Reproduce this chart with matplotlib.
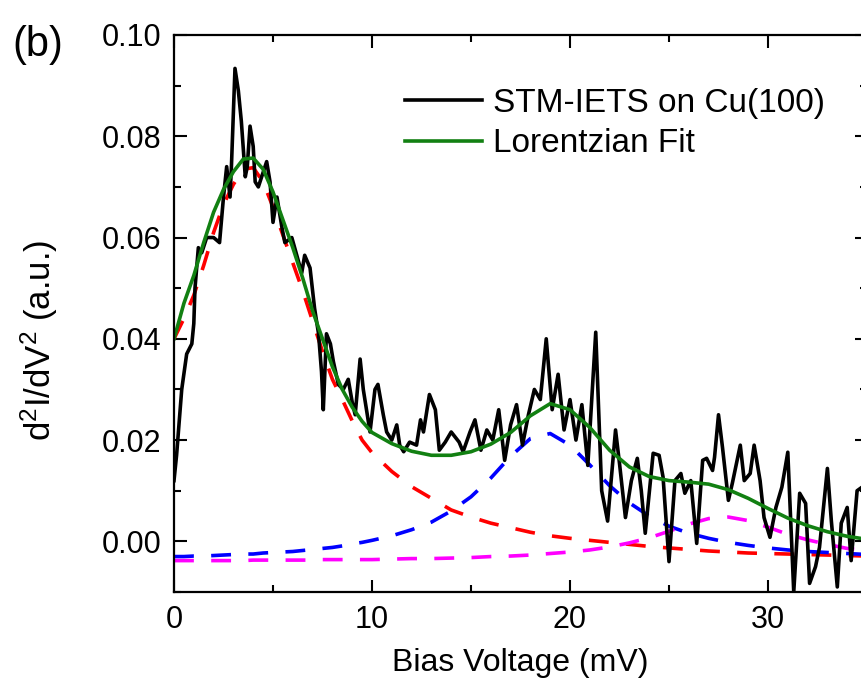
import matplotlib
matplotlib.use("Agg")
import matplotlib.pyplot as plt
from matplotlib.ticker import MultipleLocator, FormatStrFormatter

plt.rcParams["font.family"] = ["Liberation Sans", "DejaVu Sans"]
plt.rcParams["mathtext.fontset"] = "custom"
plt.rcParams["mathtext.rm"] = "Liberation Sans"
plt.rcParams["mathtext.default"] = "regular"

# Measured d2I/dV2 spectrum (bias in mV, signal in a.u.)
bias_mv = [
    0.00, 0.13, 0.39, 0.64, 0.90, 1.00, 1.06, 1.23, 1.40, 1.65, 2.00, 2.30,
    2.50, 2.66, 2.83, 2.90, 3.08, 3.25, 3.40, 3.60, 3.70, 3.84, 4.00, 4.10,
    4.26, 4.43, 4.68, 4.85, 5.00, 5.20, 5.45, 5.60, 5.95, 6.20, 6.45, 6.60,
    6.87, 7.10, 7.30, 7.45, 7.54, 7.70, 7.90, 8.05, 8.30, 8.55, 8.80, 9.00,
    9.15, 9.40, 9.56, 9.90, 10.15, 10.30, 10.57, 10.74, 11.00, 11.25, 11.40,
    11.60, 11.90, 12.25, 12.45, 12.60, 12.90, 13.20, 13.40, 13.70, 14.00,
    14.40, 14.60, 14.95, 15.20, 15.50, 15.80, 16.10, 16.40, 16.70, 17.00,
    17.30, 17.60, 17.90, 18.20, 18.50, 18.80, 19.10, 19.40, 19.70, 20.00,
    20.30, 20.60, 20.90, 21.30, 21.60, 21.90, 22.30, 22.50, 22.80, 23.10,
    23.40, 23.60, 23.80, 24.20, 24.50, 24.70, 25.00, 25.30, 25.60, 25.80,
    26.10, 26.40, 26.70, 26.90, 27.20, 27.30, 27.50, 27.70, 28.00, 28.20,
    28.60, 28.80, 29.10, 29.30, 29.60, 29.80, 30.10, 30.40, 30.70, 31.00,
    31.30, 31.60, 31.90, 32.10, 32.40, 32.60, 33.00, 33.20, 33.50, 33.70,
    34.00, 34.20, 34.50, 34.75, 35.00,
]
signal = [
    0.0120, 0.0170, 0.0300, 0.0370, 0.0390, 0.0430, 0.0500, 0.0580, 0.0570,
    0.0600, 0.0600, 0.0590, 0.0680, 0.0740, 0.0680, 0.0740, 0.0934, 0.0890,
    0.0830, 0.0720, 0.0740, 0.0820, 0.0780, 0.0710, 0.0700, 0.0720, 0.0750,
    0.0710, 0.0630, 0.0680, 0.0620, 0.0590, 0.0600, 0.0565, 0.0530, 0.0565,
    0.0540, 0.0460, 0.0410, 0.0335, 0.0260, 0.0410, 0.0390, 0.0355, 0.0310,
    0.0300, 0.0320, 0.0275, 0.0250, 0.0360, 0.0300, 0.0216, 0.0300, 0.0310,
    0.0250, 0.0216, 0.0200, 0.0230, 0.0190, 0.0177, 0.0196, 0.0190, 0.0240,
    0.0216, 0.0290, 0.0260, 0.0180, 0.0196, 0.0216, 0.0196, 0.0177, 0.0216,
    0.0240, 0.0180, 0.0220, 0.0200, 0.0260, 0.0160, 0.0230, 0.0270, 0.0190,
    0.0250, 0.0300, 0.0280, 0.0400, 0.0260, 0.0330, 0.0220, 0.0280, 0.0200,
    0.0270, 0.0150, 0.0413, 0.0100, 0.0040, 0.0220, 0.0154, 0.0047, 0.0120,
    0.0164, 0.0100, 0.0016, 0.0174, 0.0170, 0.0127, -0.0040, 0.0120, 0.0134,
    0.0095, 0.0120, -0.0004, 0.0160, 0.0164, 0.0140, 0.0166, 0.0250, 0.0186,
    0.0081, 0.0115, 0.0190, 0.0120, 0.0134, 0.0190, 0.0120, 0.0047, 0.0008,
    0.0067, 0.0107, 0.0176, -0.0100, 0.0095, 0.0075, -0.0083, -0.0050,
    -0.0012, 0.0144, 0.0040, -0.0090, 0.0036, 0.0067, -0.0038, 0.0100,
    0.0107, 0.0040,
]

# Lorentzian fit (total) and its three components, sampled along the bias axis
fit_mv = [
    0.0, 0.5, 1.0, 1.5, 2.0, 2.5, 3.0, 3.5, 4.0, 4.5, 5.0, 5.5, 6.0, 6.5, 7.0,
    7.5, 8.0, 8.5, 9.0, 9.5, 10.0, 11.0, 12.0, 13.0, 14.0, 15.0, 16.0, 17.0,
    18.0, 19.0, 20.0, 21.0, 22.0, 23.0, 24.0, 25.0, 26.0, 27.0, 28.0, 29.0,
    30.0, 31.0, 32.0, 33.0, 34.0, 35.0,
]
fit_total = [
    0.0400, 0.0470, 0.0525, 0.0590, 0.0650, 0.0695, 0.0730, 0.0755, 0.0757,
    0.0735, 0.0690, 0.0635, 0.0580, 0.0520, 0.0455, 0.0400, 0.0345, 0.0300,
    0.0265, 0.0237, 0.0215, 0.0193, 0.0178, 0.0170, 0.0170, 0.0177, 0.0192,
    0.0215, 0.0248, 0.0272, 0.0260, 0.0225, 0.0180, 0.0147, 0.0128, 0.0120,
    0.0117, 0.0113, 0.0102, 0.0085, 0.0065, 0.0046, 0.0031, 0.0019, 0.0010,
    0.0004,
]
peak_1 = [
    0.0400, 0.0440, 0.0486, 0.0545, 0.0610, 0.0665, 0.0705, 0.0735, 0.0738,
    0.0710, 0.0660, 0.0605, 0.0550, 0.0495, 0.0435, 0.0375, 0.0320, 0.0280,
    0.0238, 0.0200, 0.0175, 0.0138, 0.0108, 0.0085, 0.0062, 0.0048, 0.0036,
    0.0027, 0.0018, 0.0011, 0.0006, 0.0002, -0.0002, -0.0006, -0.0010,
    -0.0013, -0.0016, -0.0019, -0.0021, -0.0023, -0.0024, -0.0025, -0.0026,
    -0.0027, -0.0028, -0.0029,
]
peak_2 = [
    -0.0030, -0.0030, -0.0029, -0.0029, -0.0028, -0.0027, -0.0026, -0.0025,
    -0.0025, -0.0023, -0.0022, -0.0021, -0.0020, -0.0018, -0.0016, -0.0014,
    -0.0012, -0.0009, -0.0005, -0.0002, 0.0002, 0.0011, 0.0023, 0.0038,
    0.0060, 0.0088, 0.0125, 0.0168, 0.0203, 0.0213, 0.0190, 0.0151, 0.0110,
    0.0076, 0.0050, 0.0030, 0.0016, 0.0006, -0.0002, -0.0008, -0.0013,
    -0.0017, -0.0020, -0.0022, -0.0024, -0.0026,
]
peak_3 = [
    -0.0038, -0.0038, -0.0038, -0.0038, -0.0038, -0.0038, -0.0038, -0.0038,
    -0.0037, -0.0037, -0.0037, -0.0037, -0.0037, -0.0037, -0.0037, -0.0036,
    -0.0036, -0.0036, -0.0036, -0.0036, -0.0036, -0.0035, -0.0034, -0.0034,
    -0.0033, -0.0032, -0.0030, -0.0029, -0.0027, -0.0024, -0.0021, -0.0017,
    -0.0011, -0.0003, 0.0007, 0.0020, 0.0034, 0.0045, 0.0048, 0.0041, 0.0028,
    0.0014, 0.0003, -0.0006, -0.0014, -0.0019,
]

fig = plt.figure(figsize=(8.62, 6.97), dpi=100)
ax = fig.add_axes([174 / 862, 105 / 697, 693 / 862, 557 / 697])

lw = 2.6
dash = (0, (5.5, 4.8))
ax.plot(fit_mv, peak_1, color="#ff0000", lw=lw, ls=dash)
ax.plot(fit_mv, peak_2, color="#0000ff", lw=lw, ls=dash)
ax.plot(fit_mv, peak_3, color="#ff00ff", lw=lw, ls=dash)
ax.plot(bias_mv, signal, color="black", lw=lw, label="STM-IETS on Cu(100)")
ax.plot(fit_mv, fit_total, color="#128012", lw=lw, label="Lorentzian Fit")

ax.set_xlim(0, 35)
ax.set_ylim(-0.01, 0.10)
ax.xaxis.set_major_locator(MultipleLocator(10))
ax.xaxis.set_minor_locator(MultipleLocator(5))
ax.yaxis.set_major_locator(MultipleLocator(0.02))
ax.yaxis.set_minor_locator(MultipleLocator(0.01))
ax.yaxis.set_major_formatter(FormatStrFormatter("%.2f"))
ax.tick_params(which="both", direction="in", top=True, right=True,
               width=1.5, labelsize=22)
ax.tick_params(which="major", length=9, pad=9)
ax.tick_params(which="minor", length=4.8)
for sp in ax.spines.values():
    sp.set_linewidth(1.6)

ax.set_xlabel("Bias Voltage (mV)", fontsize=23)
ax.set_ylabel("d$^2$I/dV$^2$ (a.u.)", fontsize=25)
ax.xaxis.set_label_coords(0.5, -(648 - 592) / 557)
ax.yaxis.set_label_coords(-(174 - 60) / 693, (592 - 340) / 557)

leg = ax.legend(loc="upper left", bbox_to_anchor=((405 - 174) / 693, (592 - 88) / 557),
                frameon=False, fontsize=24, handlelength=2.3, handletextpad=0.33,
                labelspacing=0.28, borderpad=0, borderaxespad=0)

fig.text(12 / 862, 1 - 45 / 697, "(b)", fontsize=30, ha="left", va="center")

fig.savefig("out.png", dpi=100)
